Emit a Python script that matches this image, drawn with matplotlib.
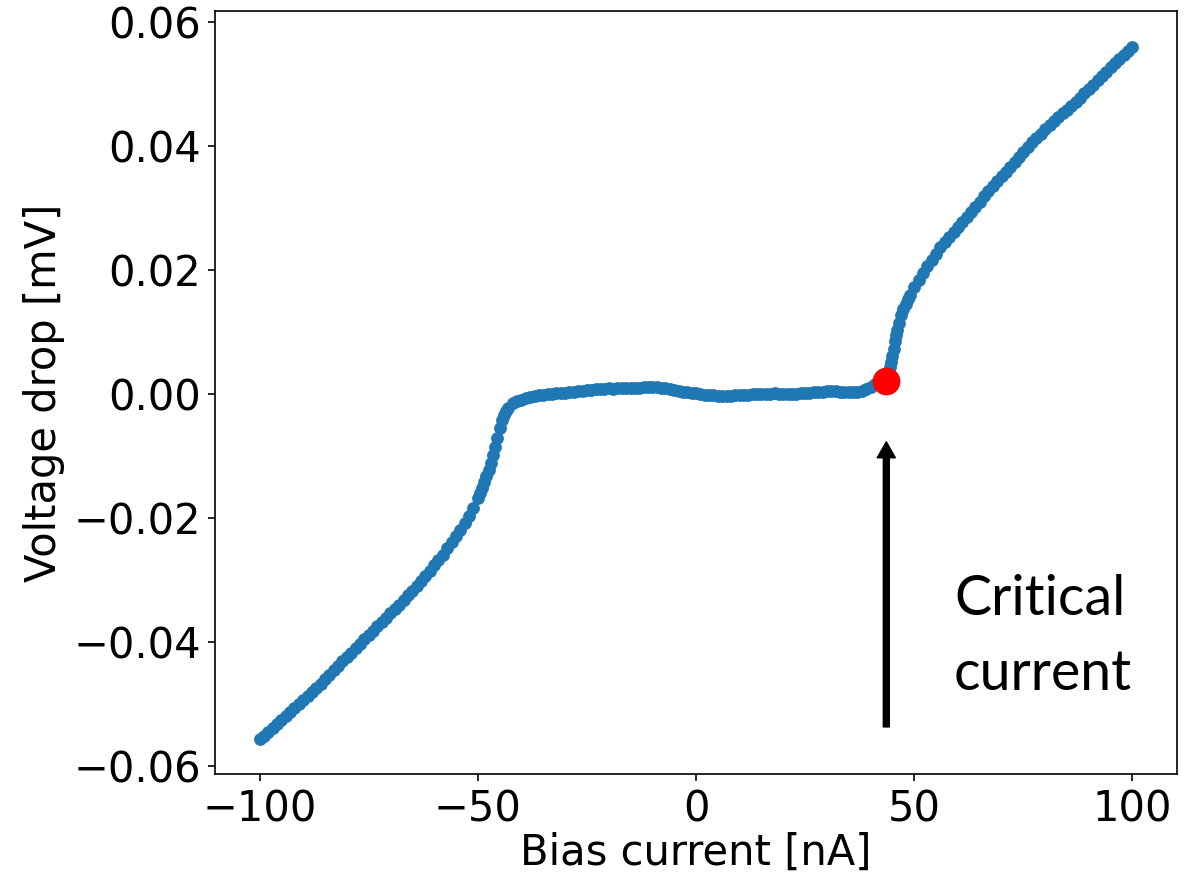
import matplotlib
matplotlib.use("Agg")
import matplotlib.pyplot as plt

# Bias current sweep [nA]
current = [
    -100, -99, -98, -97, -96, -95, -94, -93, -92, -91,
    -90, -89, -88, -87, -86, -85, -84, -83, -82, -81,
    -80, -79, -78, -77, -76, -75, -74, -73, -72, -71,
    -70, -69, -68, -67, -66, -65, -64, -63, -62, -61,
    -60, -59, -58, -57, -56, -55, -54, -53, -52, -51,
    -50, -49.5, -49, -48.5, -48, -47.5, -47, -46.5, -46, -45.5, -45, -44.5,
    -44, -43.5, -43, -42, -41, -40, -39, -38, -37, -36,
    -35, -34, -33, -32, -31, -30, -29, -28, -27, -26,
    -25, -24, -23, -22, -21, -20, -19, -18, -17, -16,
    -15, -14, -13, -12, -11, -10, -9, -8, -7, -6,
    -5, -4, -3, -2, -1, 0, 1, 2, 3, 4,
    5, 6, 7, 8, 9, 10, 11, 12, 13, 14,
    15, 16, 17, 18, 19, 20, 21, 22, 23, 24,
    25, 26, 27, 28, 29, 30, 31, 32, 33, 34,
    35, 36, 37, 38, 39, 40, 41, 42, 43, 43.5,
    44, 44.5, 44.75, 45, 45.25, 45.5, 45.75, 46, 46.5, 47, 47.5, 48, 48.5,
    49, 50, 51, 52, 53, 54, 55, 56, 57, 58,
    59, 60, 61, 62, 63, 64, 65, 66, 67, 68,
    69, 70, 71, 72, 73, 74, 75, 76, 77, 78,
    79, 80, 81, 82, 83, 84, 85, 86, 87, 88,
    89, 90, 91, 92, 93, 94, 95, 96, 97, 98,
    99, 100,
]

# Measured voltage drop [mV]
voltage = [
    -0.0557, -0.0551, -0.0545, -0.0538, -0.0532, -0.0526, -0.0520, -0.0513, -0.0507, -0.0500,
    -0.0494, -0.0487, -0.0481, -0.0474, -0.0467, -0.0460, -0.0453, -0.0446, -0.0438, -0.0431,
    -0.0424, -0.0417, -0.0410, -0.0403, -0.0396, -0.0389, -0.0382, -0.0375, -0.0368, -0.0361,
    -0.0354, -0.0347, -0.0340, -0.0332, -0.0325, -0.0317, -0.0310, -0.0301, -0.0293, -0.0285,
    -0.0276, -0.0268, -0.0259, -0.0249, -0.0239, -0.0229, -0.0219, -0.0208, -0.0197, -0.0184,
    -0.0168, -0.0160, -0.0152, -0.0142, -0.0132, -0.0122, -0.0112, -0.0099, -0.0085, -0.0071, -0.0055, -0.0042,
    -0.0034, -0.0027, -0.0022, -0.0015, -0.0011, -0.0009, -0.0007, -0.0004, -0.0003, -0.0002,
    -0.0001, 0.0000, 0.0000, 0.0001, 0.0002, 0.0002, 0.0003, 0.0004, 0.0005, 0.0005,
    0.0006, 0.0007, 0.0008, 0.0008, 0.0008, 0.0009, 0.0008, 0.0009, 0.0009, 0.0009,
    0.0009, 0.0010, 0.0010, 0.0011, 0.0011, 0.0011, 0.0011, 0.0010, 0.0009, 0.0008,
    0.0007, 0.0005, 0.0004, 0.0003, 0.0002, 0.0001, 0.0000, -0.0001, -0.0001, -0.0002,
    -0.0003, -0.0003, -0.0003, -0.0003, -0.0002, -0.0002, -0.0001, -0.0001, 0.0000, 0.0000,
    0.0000, 0.0000, 0.0000, 0.0001, 0.0000, 0.0000, 0.0000, 0.0000, 0.0000, 0.0001,
    0.0001, 0.0002, 0.0003, 0.0003, 0.0004, 0.0005, 0.0005, 0.0005, 0.0004, 0.0004,
    0.0003, 0.0003, 0.0003, 0.0005, 0.0008, 0.0012, 0.0016, 0.0019, 0.0021, 0.0025,
    0.0034, 0.0044, 0.0052, 0.0062, 0.0073, 0.0085, 0.0095, 0.0103, 0.0115, 0.0127, 0.0137, 0.0145, 0.0153,
    0.0160, 0.0173, 0.0184, 0.0195, 0.0206, 0.0216, 0.0226, 0.0237, 0.0246, 0.0253,
    0.0261, 0.0269, 0.0277, 0.0286, 0.0294, 0.0302, 0.0310, 0.0319, 0.0327, 0.0335,
    0.0343, 0.0351, 0.0359, 0.0367, 0.0375, 0.0383, 0.0391, 0.0399, 0.0406, 0.0413,
    0.0420, 0.0427, 0.0434, 0.0441, 0.0447, 0.0453, 0.0459, 0.0465, 0.0471, 0.0478,
    0.0485, 0.0492, 0.0499, 0.0506, 0.0513, 0.0520, 0.0527, 0.0534, 0.0540, 0.0547,
    0.0553, 0.0560,
]

# Critical-current point
crit_current = [43.5]
crit_voltage = [0.0021]

annotation_text = "Critical\ncurrent"
x_label = "Bias current [nA]"
y_label = "Voltage drop [mV]"
x_ticks = [-100, -50, 0, 50, 100]
y_ticks = [-0.06, -0.04, -0.02, 0.00, 0.02, 0.04, 0.06]

fig = plt.figure(figsize=(11.88, 8.75), dpi=100)
ax = fig.add_axes([215 / 1188, 1 - 774 / 875, (1177 - 215) / 1188, (774 - 11) / 875])

ax.scatter(current, voltage, s=85, color="#1f77b4", linewidths=0, zorder=2)
ax.scatter(crit_current, crit_voltage, s=400, color="red", linewidths=0, zorder=3)

ax.annotate("", xy=(43.6, -0.0077), xytext=(43.6, -0.0537),
            arrowprops=dict(width=4.3, headwidth=13, headlength=11.5,
                            color="black", shrink=0.0))

ax.text(59.1, -0.0477, annotation_text, fontsize=40, family="Lato",
        ha="left", va="baseline", linespacing=1.58)

ax.set_xlim(-110.2, 110.2)
ax.set_ylim(-0.0613, 0.0618)
ax.set_xticks(x_ticks)
ax.set_yticks(y_ticks)
ax.set_xlabel(x_label, fontsize=30, labelpad=1)
ax.set_ylabel(y_label, fontsize=30, labelpad=6)
ax.tick_params(labelsize=30, length=5.25, width=1.2, pad=5)
for sp in ax.spines.values():
    sp.set_linewidth(1.2)

fig.savefig("out.png", dpi=100)
